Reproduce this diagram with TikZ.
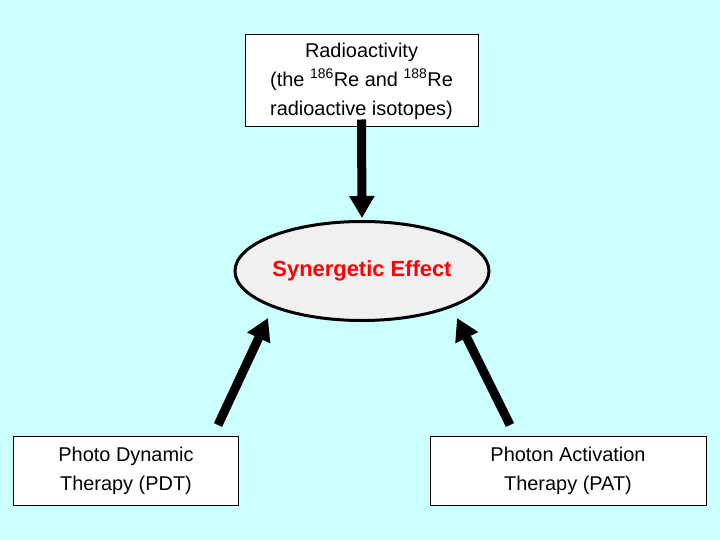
\documentclass[tikz,border=0pt]{standalone}
\usepackage{fontspec}
\setmainfont{Liberation Sans}
\usetikzlibrary{shapes.geometric,arrows.meta}
\definecolor{bg}{RGB}{204,255,255}
\begin{document}
\begin{tikzpicture}[x=1bp,y=-1bp,
  box/.style={draw=black,fill=white,line width=1bp,align=center,font=\fontsize{20}{29}\selectfont,inner sep=0},
  big/.style={line width=9bp,-{Triangle[length=22bp,width=24bp]}}]
\fill[bg] (0,0) rectangle (720,540);
\useasboundingbox (0,0) rectangle (720,540);
\node[box,minimum width=233bp,minimum height=92bp] (top) at (361.5,81) {Radioactivity\\(the \textsuperscript{186}Re and \textsuperscript{188}Re\\radioactive isotopes)};
\node[ellipse,draw=black,line width=3bp,fill=white!94!black,minimum width=254bp,minimum height=99bp,inner sep=0,text=red,font=\bfseries\fontsize{22}{26}\selectfont] (syn) at (362,271) {Synergetic Effect};
\node[box,minimum width=224bp,minimum height=69bp] (pdt) at (126,470.5) {Photo Dynamic\\Therapy (PDT)};
\node[box,minimum width=276bp,minimum height=69bp] (pat) at (568,470.5) {Photon Activation\\Therapy (PAT)};
\coordinate (a1) at (362,218);
\coordinate (a2) at (268,318);
\coordinate (a3) at (457,318);
\coordinate (s2) at (218,425);
\coordinate (s3) at (510,425);
\draw[big] ([yshift=8bp]top.south) -- (a1);
\draw[big] (s2) -- (a2);
\draw[big] (s3) -- (a3);
\end{tikzpicture}
\end{document}
